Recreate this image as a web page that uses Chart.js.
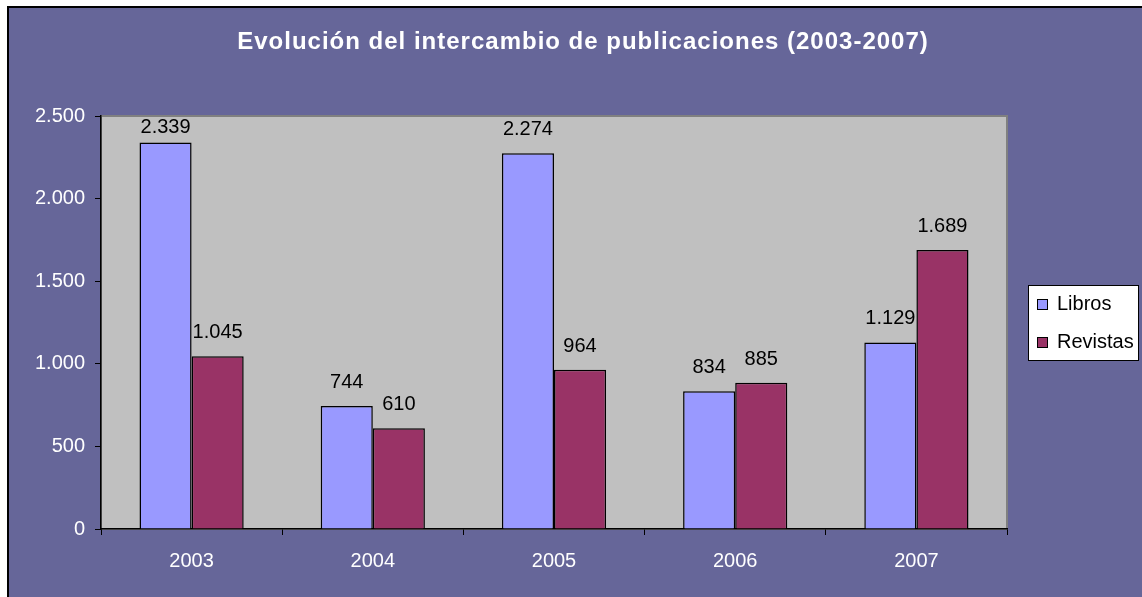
<!DOCTYPE html>
<html lang="es">
<head>
<meta charset="UTF-8">
<title>Evolución del intercambio de publicaciones</title>
<script src="https://cdn.jsdelivr.net/npm/chart.js"></script>
<style>
    body { margin: 0; background: #fff; }
    canvas { display: block; }
</style>
</head>
<body>
<canvas id="grafico" width="1142" height="597"></canvas>
<script>
    // datos
    const anios = ['2003', '2004', '2005', '2006', '2007'];
    const libros = [2339, 744, 2274, 834, 1129];
    const revistas = [1045, 610, 964, 885, 1689];
    const titulo = 'Evolución del intercambio de publicaciones (2003-2007)';

    const fuente = '"Liberation Sans", Arial, sans-serif';

    function miles(v) {
        return String(v).replace(/\B(?=(\d{3})+(?!\d))/g, '.');
    }

    // fondo, marco, area gris, titulo, leyenda y etiquetas
    const estilo = {
        id: 'estilo',
        beforeDraw(chart) {
            const ctx = chart.ctx;
            const a = chart.chartArea;
            ctx.save();
            ctx.fillStyle = '#ffffff';
            ctx.fillRect(0, 0, chart.width, chart.height);
            ctx.fillStyle = '#666699';
            ctx.fillRect(8, 7, chart.width, chart.height);
            ctx.strokeStyle = '#000';
            ctx.lineWidth = 2;
            ctx.strokeRect(8, 7, chart.width + 10, chart.height + 10);
            ctx.fillStyle = '#c0c0c0';
            ctx.fillRect(a.left, a.top, a.right - a.left, a.bottom - a.top);
            ctx.strokeStyle = '#808080';
            ctx.lineWidth = 2;
            ctx.strokeRect(a.left, a.top, a.right - a.left, a.bottom - a.top);
            ctx.restore();
        },
        afterDraw(chart) {
            const ctx = chart.ctx;
            const a = chart.chartArea;
            ctx.save();
            // titulo
            ctx.fillStyle = '#fff';
            ctx.font = 'bold 24px ' + fuente;
            ctx.textAlign = 'center';
            ctx.textBaseline = 'alphabetic';
            ctx.letterSpacing = '1px';
            ctx.fillText(titulo, 583, 49);
            ctx.letterSpacing = '0px';

            // valores encima de las barras
            ctx.fillStyle = '#000';
            ctx.font = '20px ' + fuente;
            chart.data.datasets.forEach((ds, i) => {
                chart.getDatasetMeta(i).data.forEach((bar, j) => {
                    const y = Math.max(bar.y - 18, a.top + 17);
                    ctx.fillText(miles(ds.data[j]), bar.x, y);
                });
            });

            // leyenda
            ctx.fillStyle = '#fff';
            ctx.fillRect(1028, 285, 110, 75);
            ctx.strokeStyle = '#000';
            ctx.lineWidth = 1;
            ctx.strokeRect(1028.5, 285.5, 110, 75);
            ctx.textAlign = 'left';
            ctx.textBaseline = 'middle';
            chart.data.datasets.forEach((ds, i) => {
                const y = 304 + i * 38;
                ctx.fillStyle = ds.backgroundColor;
                ctx.fillRect(1037, y - 5, 10, 10);
                ctx.strokeRect(1037.5, y - 4.5, 10, 10);
                ctx.fillStyle = '#000';
                ctx.fillText(ds.label, 1057, y);
            });
            ctx.restore();
        }
    };

    new Chart(document.getElementById('grafico'), {
        type: 'bar',
        data: {
            labels: anios,
            datasets: [
                {
                    label: 'Libros',
                    data: libros,
                    backgroundColor: '#9999ff',
                    borderColor: '#000',
                    borderWidth: 1.5,
                    categoryPercentage: 0.575,
                    barPercentage: 1
                },
                {
                    label: 'Revistas',
                    data: revistas,
                    backgroundColor: '#993366',
                    borderColor: '#000',
                    borderWidth: 1.5,
                    categoryPercentage: 0.575,
                    barPercentage: 1
                }
            ]
        },
        options: {
            responsive: false,
            animation: false,
            layout: { padding: { left: 0, top: 116, right: 135, bottom: 28 } },
            plugins: {
                legend: { display: false },
                title: { display: false },
                tooltip: { enabled: false }
            },
            scales: {
                x: {
                    afterFit(axis) { axis.height = 40; },
                    grid: { drawOnChartArea: false, tickLength: 6, color: '#000', offset: true },
                    border: { color: '#000', width: 1.5 },
                    ticks: { color: '#fff', padding: 14, font: { family: fuente, size: 20 } }
                },
                y: {
                    min: 0,
                    max: 2500,
                    afterFit(axis) { axis.width = 101; },
                    grid: { drawOnChartArea: false, tickLength: 6, color: '#000' },
                    border: { color: '#000', width: 1.5 },
                    ticks: {
                        stepSize: 500,
                        color: '#fff',
                        padding: 10,
                        font: { family: fuente, size: 20 },
                        callback: v => miles(v)
                    }
                }
            }
        },
        plugins: [estilo]
    });
</script>
</body>
</html>
